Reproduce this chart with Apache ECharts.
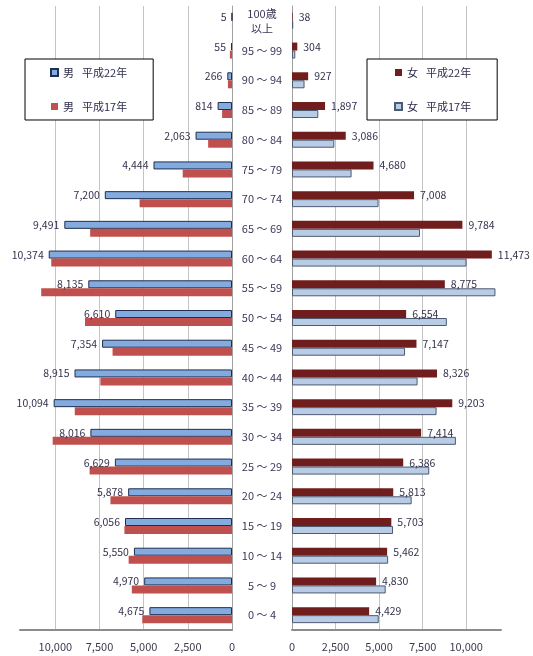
<!DOCTYPE html>
<html><head><meta charset="utf-8">
<script src="https://cdn.jsdelivr.net/npm/echarts@6/dist/echarts.min.js"></script>
<style>html,body{margin:0;padding:0;background:#fff}#c{width:533px;height:656px}</style>
</head><body><div id="c"></div><script>
// Age groups, top to bottom
const categories = ['100歳\n以上','95 ～ 99','90 ～ 94','85 ～ 89','80 ～ 84','75 ～ 79','70 ～ 74','65 ～ 69','60 ～ 64','55 ～ 59','50 ～ 54','45 ～ 49','40 ～ 44','35 ～ 39','30 ～ 34','25 ～ 29','20 ～ 24','15 ～ 19','10 ～ 14','5 ～ 9','0 ～ 4'];
// 男 平成22年 / 男 平成17年
const maleH22 = [5,55,266,814,2063,4444,7200,9491,10374,8135,6610,7354,8915,10094,8016,6629,5878,6056,5550,4970,4675];
const maleH17 = [3,120,230,560,1350,2790,5230,8030,10230,10800,8320,6760,7450,8900,10150,8060,6880,6090,5850,5670,5080];
// 女 平成22年 / 女 平成17年
const femaleH22 = [38,304,927,1897,3086,4680,7008,9784,11473,8775,6554,7147,8326,9203,7414,6386,5813,5703,5462,4830,4429];
const femaleH17 = [70,190,720,1510,2430,3420,4970,7350,10020,11680,8890,6490,7210,8300,9410,7880,6870,5800,5520,5380,4980];
// axis
const axisMax = 12000;
const axisStep = 2500;
const seriesNames = ['男\u2002 平成22年','男\u2002 平成17年','女\u2002 平成22年','女\u2002 平成17年'];

const fmt = v => String(v).replace(/\B(?=(\d{3})+(?!\d))/g, ',');
const FONT = '"Noto Sans CJK JP", "Noto Sans", sans-serif';
const txtColor = '#3b3859';

const chart = echarts.init(document.getElementById('c'), null, {renderer: 'canvas'});

const xAxisCommon = {
  type: 'value', min: 0, max: axisMax, interval: axisStep,
  axisLine: {show: true, lineStyle: {color: '#8c8c8c', width: 2}},
  axisTick: {show: false},
  axisLabel: {show: true, showMaxLabel: false, margin: 11, fontSize: 11, fontFamily: FONT, color: '#3d3a4d',
    formatter: v => v > 10000 ? '' : fmt(v)},
  splitLine: {show: true, showMaxLine: false, lineStyle: {color: '#c4c4c4', width: 1}}
};

const legendCommon = {
  orient: 'vertical', itemGap: 23, itemWidth: 7, itemHeight: 7, icon: 'rect',
  borderColor: '#000', borderWidth: 1, backgroundColor: '#fff', selectedMode: false,
  textStyle: {fontSize: 11, color: '#2d2d4d', fontFamily: FONT}
};

const option = {
  backgroundColor: '#ffffff',
  animation: false,
  textStyle: {fontFamily: FONT},
  grid: [
    {left: 20, width: 212, top: 6, height: 624},
    {left: 292, width: 209, top: 6, height: 624}
  ],
  xAxis: [
    Object.assign({}, xAxisCommon, {gridIndex: 0, inverse: true}),
    Object.assign({}, xAxisCommon, {gridIndex: 1})
  ],
  yAxis: [
    {type: 'category', gridIndex: 0, data: categories, inverse: true, position: 'right',
      axisLine: {show: true, lineStyle: {color: '#a0a0a0', width: 1}}, axisTick: {show: false}, axisLabel: {show: false}},
    {type: 'category', gridIndex: 1, data: categories, inverse: true, position: 'left',
      axisLine: {show: true, lineStyle: {color: '#a0a0a0', width: 1}}, axisTick: {show: false},
      axisLabel: {show: true, align: 'center', margin: 30, fontSize: 11, lineHeight: 15, fontFamily: FONT, color: txtColor}}
  ],
  legend: [
    Object.assign({}, legendCommon, {data: [seriesNames[0], seriesNames[1]], left: 25, top: 59, padding: [8, 26, 8, 25]}),
    Object.assign({}, legendCommon, {data: [seriesNames[2], seriesNames[3]], left: 367, top: 59, padding: [8, 26, 8, 27]})
  ],
  series: [
    {name: seriesNames[0], type: 'bar', xAxisIndex: 0, yAxisIndex: 0, data: maleH22,
      barWidth: 8, barGap: '0%',
      itemStyle: {color: '#84abe0', borderColor: '#1f2f4f', borderWidth: 1},
      label: {show: true, position: 'left', distance: 5, fontSize: 10.5, fontFamily: FONT, color: '#33334f',
        formatter: p => fmt(p.value)}},
    {name: seriesNames[1], type: 'bar', xAxisIndex: 0, yAxisIndex: 0, data: maleH17,
      barWidth: 8, barGap: '0%',
      itemStyle: {color: '#c0504d'}},
    {name: seriesNames[2], type: 'bar', xAxisIndex: 1, yAxisIndex: 1, data: femaleH22,
      barWidth: 8, barGap: '0%',
      itemStyle: {color: '#701d1d'},
      label: {show: true, position: 'right', distance: 6, fontSize: 10.5, fontFamily: FONT, color: '#33334f',
        formatter: p => fmt(p.value)}},
    {name: seriesNames[3], type: 'bar', xAxisIndex: 1, yAxisIndex: 1, data: femaleH17,
      barWidth: 8, barGap: '0%',
      itemStyle: {color: '#b8cce6', borderColor: '#4d5a70', borderWidth: 1}}
  ]
};
chart.setOption(option);
</script></body></html>
